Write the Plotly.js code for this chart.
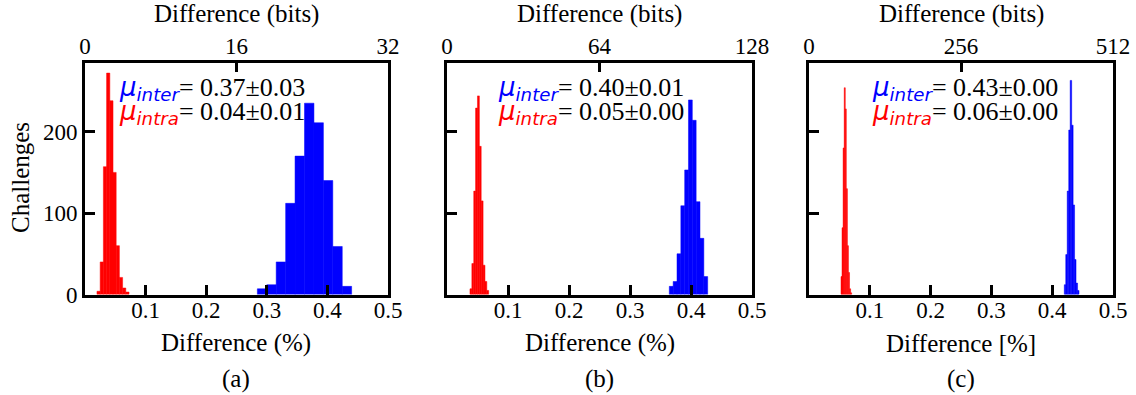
<!DOCTYPE html>
<html>
<head>
<meta charset="utf-8">
<script src="https://cdn.plot.ly/plotly-3.0.1.min.js"></script>
<style>
html,body{margin:0;padding:0;background:#fff;}
#chart{width:1136px;height:395px;}
</style>
</head>
<body>
<div id="chart"></div>
<script>
// ---------------- data ----------------
// panel (a): 64-bit responses
const intraCentersA = [0.0224, 0.0277, 0.0330, 0.0383, 0.0436, 0.0488, 0.0541, 0.0594, 0.0647, 0.0700];
const intraCountsA  = [4, 40, 157, 272, 238, 150, 60, 21, 8, 3];
const interCentersA = [0.2922, 0.3078, 0.3233, 0.3389, 0.3544, 0.3700, 0.3856, 0.4011, 0.4167, 0.4322];
const interCountsA  = [7, 12, 40, 112, 170, 235, 211, 140, 59, 10];
// panel (b): 128-bit responses
const intraCentersB = [0.0392, 0.0423, 0.0454, 0.0484, 0.0515, 0.0545, 0.0576, 0.0607, 0.0637, 0.0668];
const intraCountsB  = [7, 38, 127, 229, 244, 182, 115, 36, 16, 5];
const interCentersB = [0.3676, 0.3739, 0.3802, 0.3865, 0.3928, 0.3990, 0.4053, 0.4116, 0.4179, 0.4242];
const interCountsB  = [10, 16, 50, 109, 153, 239, 214, 114, 69, 22];
// panel (c): 512-bit responses
const intraCentersC = [0.0535, 0.0552, 0.0570, 0.0588, 0.0605, 0.0623, 0.0640, 0.0658, 0.0676, 0.0693];
const intraCountsC  = [22, 82, 180, 254, 228, 130, 60, 27, 7, 2];
const interCentersC = [0.4211, 0.4235, 0.4259, 0.4284, 0.4308, 0.4332, 0.4356, 0.4380, 0.4405, 0.4429];
const interCountsC  = [12, 49, 127, 202, 263, 208, 110, 43, 14, 5];

const bottomTicks = [0.1, 0.2, 0.3, 0.4, 0.5];
const yTicks = [0, 100, 200];
const bitTicksA = [0, 16, 32];
const bitTicksB = [0, 64, 128];
const bitTicksC = [0, 256, 512];
const statsInter = ["0.37±0.03", "0.40±0.01", "0.43±0.00"];
const statsIntra = ["0.04±0.01", "0.05±0.00", "0.06±0.00"];
const panelLabels = ["(a)", "(b)", "(c)"];
const bottomTitles = ["Difference (%)", "Difference (%)", "Difference [%]"];
const topTitle = "Difference (bits)";
const yTitle = "Challenges";

// ---------------- layout helpers ----------------
const W = 1136, H = 395;
const fx = p => p / W;
const fy = p => 1 - p / H;
const SERIF = "'Liberation Serif', 'Times New Roman', serif";
const TICK = 23, TITLE = 25, ANN = 26;
const panels = [
  {l: 85, r: 388, textL: 118, bits: bitTicksA, ic: intraCentersA, iv: intraCountsA, ec: interCentersA, ev: interCountsA},
  {l: 447, r: 752, textL: 497, bits: bitTicksB, ic: intraCentersB, iv: intraCountsB, ec: interCentersB, ev: interCountsB},
  {l: 809, r: 1113, textL: 871, bits: bitTicksC, ic: intraCentersC, iv: intraCountsC, ec: interCentersC, ev: interCountsC}
];
const plotTop = 62.5, plotBot = 294.5;

const data = [];
const layout = {
  width: W, height: H,
  margin: {l: 0, r: 0, t: 0, b: 0},
  paper_bgcolor: "#fff", plot_bgcolor: "#fff",
  showlegend: false, hovermode: false,
  barmode: "overlay",
  font: {family: SERIF, size: TICK, color: "#000"},
  annotations: []
};

panels.forEach((p, i) => {
  const n = i + 1;
  const xa = n === 1 ? "x" : "x" + n;
  const ya = n === 1 ? "y" : "y" + n;
  const xt = "x" + (n + 3);
  const wIntra = p.ic[1] - p.ic[0];
  const wInter = p.ec[1] - p.ec[0];
  data.push({type: "bar", x: p.ic, y: p.iv, width: wIntra, xaxis: xa, yaxis: ya,
             marker: {color: "#ff0000", line: {width: 0.5, color: "#ff0000"}}, hoverinfo: "skip"});
  data.push({type: "bar", x: p.ec, y: p.ev, width: wInter, xaxis: xa, yaxis: ya,
             marker: {color: "#0000ff", line: {width: 0.5, color: "#0000ff"}}, hoverinfo: "skip"});
  // invisible point so the top (bits) axis is drawn
  data.push({type: "scatter", mode: "markers", x: [p.bits[0]], y: [0], xaxis: xt, yaxis: ya,
             marker: {opacity: 0, size: 1}, hoverinfo: "skip"});

  const xKey = n === 1 ? "xaxis" : "xaxis" + n;
  const yKey = n === 1 ? "yaxis" : "yaxis" + n;
  layout[xKey] = {
    domain: [fx(p.l), fx(p.r)], anchor: ya, range: [0, 0.5],
    tickvals: bottomTicks, ticktext: bottomTicks.map(String),
    ticks: "inside", ticklen: 10, tickwidth: 3, tickcolor: "#000",
    ticklabelstandoff: -7,
    showline: true, mirror: true, linewidth: 3, linecolor: "#000",
    showgrid: false, zeroline: false, fixedrange: true,
    tickfont: {family: SERIF, size: TICK, color: "#000"}
  };
  layout[yKey] = {
    domain: [fy(plotBot), fy(plotTop)], anchor: xa, range: [0, 285],
    tickvals: yTicks, ticktext: yTicks.map(String), showticklabels: n === 1,
    ticks: "inside", ticklen: 10, tickwidth: 3, tickcolor: "#000",
    showline: true, mirror: true, linewidth: 3, linecolor: "#000",
    showgrid: false, zeroline: false, fixedrange: true,
    tickfont: {family: SERIF, size: TICK, color: "#000"}
  };
  layout["xaxis" + (n + 3)] = {
    overlaying: xa, anchor: ya, side: "top", range: [p.bits[0], p.bits[2]],
    tickvals: p.bits, ticktext: p.bits.map(String),
    ticks: "inside", ticklen: 9, tickwidth: 3, tickcolor: "#000",
    ticklabelstandoff: 3,
    showline: false, showgrid: false, zeroline: false, fixedrange: true,
    tickfont: {family: SERIF, size: TICK, color: "#000"}
  };

  const cx = fx((p.l + p.r) / 2);
  layout.annotations.push({xref: "paper", yref: "paper", x: cx, y: fy(14), text: topTitle,
    showarrow: false, xanchor: "center", yanchor: "middle", font: {family: SERIF, size: TITLE, color: "#000"}});
  layout.annotations.push({xref: "paper", yref: "paper", x: cx, y: fy(343), text: bottomTitles[i],
    showarrow: false, xanchor: "center", yanchor: "middle", font: {family: SERIF, size: TITLE, color: "#000"}});
  layout.annotations.push({xref: "paper", yref: "paper", x: cx, y: fy(379), text: panelLabels[i],
    showarrow: false, xanchor: "center", yanchor: "middle", font: {family: SERIF, size: TITLE, color: "#000"}});
  const mu = (sub, col) => '<span style="font-family:\'DejaVu Sans\';color:' + col + '"><i>μ</i><sub><i>' + sub + '</i></sub></span>';
  layout.annotations.push({xref: "paper", yref: "paper", x: fx(p.textL), y: fy(89), text: mu("inter", "#0000ff") + "= " + statsInter[i],
    showarrow: false, xanchor: "left", yanchor: "middle", borderpad: 0, font: {family: SERIF, size: ANN, color: "#000"}});
  layout.annotations.push({xref: "paper", yref: "paper", x: fx(p.textL), y: fy(113), text: mu("intra", "#ff0000") + "= " + statsIntra[i],
    showarrow: false, xanchor: "left", yanchor: "middle", borderpad: 0, font: {family: SERIF, size: ANN, color: "#000"}});
});

layout.annotations.push({xref: "paper", yref: "paper", x: fx(21), y: fy(178), text: yTitle, textangle: -90,
  showarrow: false, xanchor: "center", yanchor: "middle", font: {family: SERIF, size: TITLE, color: "#000"}});

Plotly.newPlot("chart", data, layout, {staticPlot: true, displayModeBar: false});
</script>
</body>
</html>
